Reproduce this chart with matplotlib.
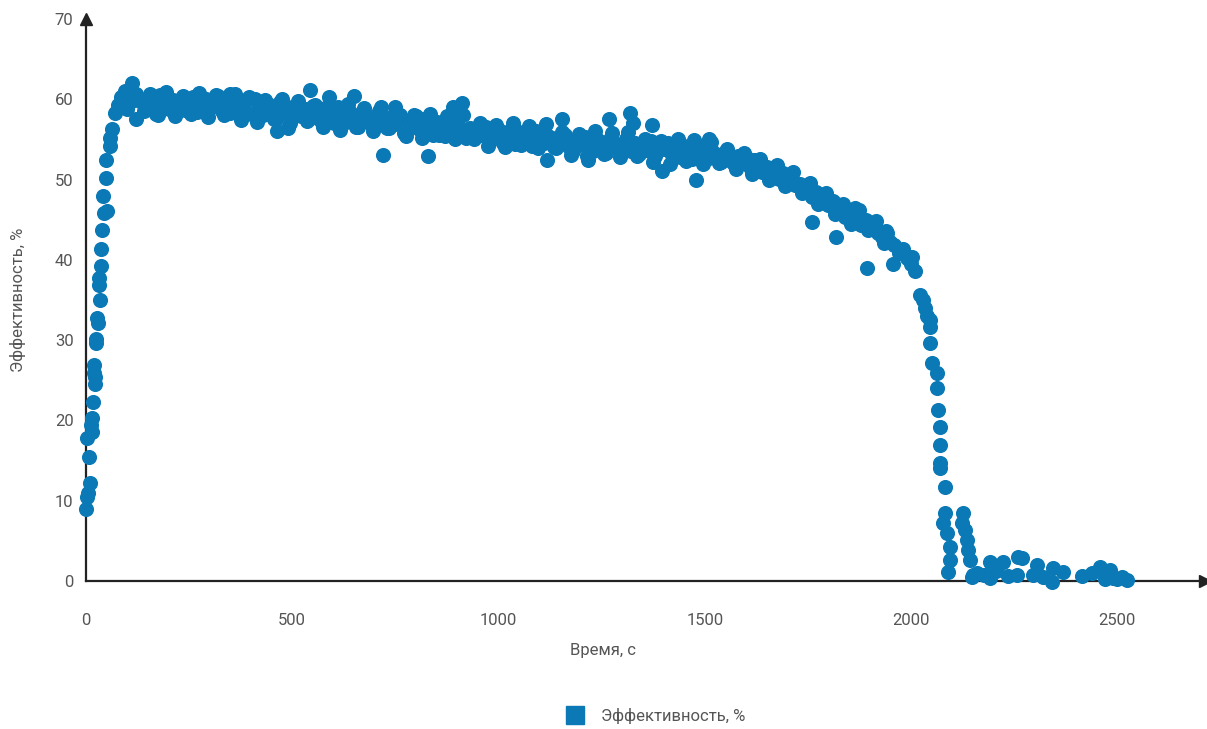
import matplotlib
matplotlib.use('Agg')
import matplotlib.pyplot as plt
from matplotlib.lines import Line2D

plt.rcParams['font.family'] = ['Roboto', 'DejaVu Sans']

BLUE = '#0a79b5'
GREY = '#555555'
FS = 12

# start-up: efficiency climbs from ~9 % to ~60 %
rise_x = [0, 2, 5, 10, 8, 3, 15, 13, 15, 17, 22, 22, 20, 20, 24, 24, 29, 27, 34, 32,
          32, 37, 37, 39, 44, 51, 41, 49, 49, 58, 58, 63, 70, 78, 85, 95, 112, 121, 121, 107, 100]
rise_y = [9.0, 10.5, 11.0, 12.2, 15.5, 17.8, 18.5, 19.4, 20.3, 22.3, 24.6, 25.4, 25.9, 26.9, 29.7,
          30.2, 32.1, 32.8, 35.0, 36.9, 37.8, 39.2, 41.4, 43.7, 45.8, 46.1, 47.9, 50.2, 52.5, 54.2,
          55.2, 56.3, 58.3, 59.3, 60.3, 61.0, 62.0, 60.7, 57.5, 59.7, 58.8]

# working plateau and slow decline
plateau_x = [130, 140, 150, 160, 170, 180, 190, 200, 210, 220,
             230, 240, 250, 260, 270, 280, 290, 300, 310, 320,
             330, 340, 350, 360, 370, 380, 390, 400, 410, 420,
             430, 440, 450, 460, 470, 480, 490, 500, 510, 520,
             530, 540, 550, 560, 570, 580, 590, 600, 610, 620,
             630, 640, 650, 660, 670, 680, 690, 700, 710, 720,
             730, 740, 750, 760, 770, 780, 790, 800, 810, 820,
             830, 840, 850, 860, 870, 880, 890, 900, 910, 920,
             930, 940, 950, 960, 970, 980, 990, 1000, 1010, 1020,
             1030, 1040, 1050, 1060, 1070, 1080, 1090, 1100, 1110, 1120,
             1130, 1140, 1150, 1160, 1170, 1180, 1190, 1200, 1210, 1220,
             1230, 1240, 1250, 1260, 1270, 1280, 1290, 1300, 1310, 1320,
             1330, 1340, 1350, 1360, 1370, 1380, 1390, 1400, 1410, 1420,
             1430, 1440, 1450, 1460, 1470, 1480, 1490, 1500, 1510, 1520,
             1530, 1540, 1550, 1560, 1570, 1580, 1590, 1600, 1610, 1620,
             1630, 1640, 1650, 1660, 1670, 1680, 1690, 1700, 1710, 1720,
             1730, 1740, 1750, 1760, 1770, 1780, 1790, 1800, 1810, 1820,
             1830, 1840, 1850, 1860, 1870, 1880, 1890, 1900, 1910, 1920,
             1930, 1940, 1950, 1960, 1970, 1980, 1990, 2000, 2010]
plateau_y = [59.8, 58.6, 60.2, 59.1, 58.2, 60.5, 59.4, 58.8, 59.9, 58.5,
             60.1, 58.7, 59.5, 60.3, 58.4, 59.0, 60.0, 58.9, 59.6, 60.4,
             58.6, 59.8, 58.3, 60.6, 59.2, 58.5, 59.9, 58.2, 60.1, 59.3,
             58.0, 59.4, 58.9, 57.6, 59.7, 58.3, 56.4, 59.1, 58.6, 57.9,
             58.8, 57.5, 59.2, 58.0, 57.3, 58.9, 58.3, 57.1, 59.0, 58.1,
             57.2, 58.4, 57.6, 56.5, 58.2, 57.9, 56.9, 57.4, 58.5, 57.0,
             56.4, 57.8, 56.9, 58.1, 55.8, 57.3, 56.6, 57.9, 56.2, 57.5,
             56.9, 55.6, 57.2, 56.1, 55.4, 56.8, 57.4, 55.9, 56.3, 55.2,
             56.4, 55.1, 56.0, 55.5, 56.6, 54.8, 55.7, 56.2, 54.6, 55.9,
             55.6, 54.4, 55.9, 54.9, 55.3, 54.2, 56.0, 55.1, 54.5, 55.4,
             55.2, 53.9, 54.8, 55.5, 54.1, 53.6, 55.0, 54.4, 55.3, 54.0,
             53.5, 54.9, 54.2, 53.3, 55.1, 54.6, 53.8, 54.4, 55.0, 53.6,
             54.5, 53.2, 54.1, 53.7, 54.8, 52.9, 54.3, 53.8, 54.6, 53.1,
             53.9, 52.8, 54.2, 53.3, 52.6, 53.8, 53.0, 54.1, 52.7, 53.4,
             53.1, 52.2, 53.4, 52.5, 51.9, 53.0, 52.3, 52.8, 51.6, 52.4,
             51.9, 51.0, 51.6, 50.5, 51.2, 50.1, 50.8, 49.6, 50.4, 49.3,
             49.5, 48.6, 49.1, 47.8, 48.4, 47.2, 47.9, 46.8, 47.3, 46.2,
             46.5, 45.4, 46.1, 44.9, 45.6, 44.3, 45.0, 43.8, 44.6, 43.4,
             42.9, 43.6, 42.2, 41.8, 40.9, 41.3, 40.2, 39.5, 38.6]

# second pass over the plateau: points on the upper and lower edge of the band
edge_x = [155, 175, 195, 215, 235, 255, 275, 295, 315, 335,
          355, 375, 395, 415, 435, 455, 475, 495, 515, 535,
          555, 575, 595, 615, 635, 655, 675, 695, 715, 735,
          755, 775, 795, 815, 835, 855, 875, 895, 915, 935,
          955, 975, 995, 1015, 1035, 1055, 1075, 1095, 1115, 1135,
          1155, 1175, 1195, 1215, 1235, 1255, 1275, 1295, 1315, 1335,
          1355, 1375, 1395, 1415, 1435, 1455, 1475, 1495, 1515, 1535,
          1555, 1575, 1595, 1615, 1635, 1655, 1675, 1695, 1715, 1735,
          1755, 1775, 1795, 1815, 1835, 1855, 1875, 1895, 1915, 1935]
edge_y = [60.6, 58.0, 60.9, 57.9, 60.4, 58.2, 60.8, 57.8, 60.5, 58.1,
          60.0, 57.4, 60.3, 57.2, 59.9, 57.6, 60.1, 57.0, 59.8, 57.3,
          59.3, 56.5, 59.0, 56.2, 59.4, 56.6, 58.9, 56.0, 59.1, 56.4,
          58.3, 55.4, 58.0, 55.2, 58.2, 55.6, 57.9, 55.0, 58.1, 55.3,
          57.0, 54.2, 56.8, 54.0, 57.1, 54.3, 56.7, 53.9, 56.9, 54.1,
          55.9, 53.1, 55.7, 52.9, 56.0, 53.2, 55.8, 52.8, 55.9, 53.0,
          55.0, 52.2, 54.8, 52.0, 55.1, 52.3, 54.9, 51.9, 54.7, 52.1,
          53.8, 51.3, 53.3, 50.7, 52.6, 49.9, 51.8, 49.2, 50.9, 48.3,
          49.6, 46.9, 48.3, 45.7, 47.0, 44.5, 46.2, 43.7, 44.8, 42.1]

# isolated points above / below the band
outlier_x = [543, 589, 650, 349, 749, 912, 890, 463, 720, 829, 1154, 1268, 1319, 1326,
             1372, 1397, 1479, 1511, 1118, 1217, 1760, 1819, 1894, 1865]
outlier_y = [61.1, 60.3, 60.4, 60.7, 59.0, 59.6, 59.0, 56.0, 53.1, 52.9, 57.5, 57.5, 58.3, 57.0,
             56.8, 51.1, 49.9, 55.1, 52.4, 52.4, 44.7, 42.9, 39.0, 46.5]

# collapse
drop_x = [1942, 1957, 2003, 2022, 2030, 2034, 2040, 2047, 2047, 2047, 2051, 2063, 2063, 2066,
          2071, 2071, 2071, 2071, 2083, 2083, 2078, 2088, 2095, 2095, 2090,
          2127, 2124, 2131, 2136, 2139, 2144, 2148, 2161]
drop_y = [43.3, 39.5, 40.3, 35.6, 35.0, 34.0, 33.0, 32.5, 31.6, 29.6, 27.1, 25.9, 24.0, 21.3,
          19.2, 16.9, 14.7, 14.1, 11.7, 8.5, 7.2, 6.0, 4.2, 2.6, 1.1,
          8.5, 7.2, 6.3, 5.1, 3.9, 2.6, 0.5, 1.0]

# residual tail
tail_x = [2151, 2176, 2192, 2192, 2205, 2224, 2235, 2257, 2260, 2270, 2296, 2306, 2320, 2342,
          2345, 2369, 2415, 2440, 2459, 2470, 2483, 2490, 2500, 2512, 2524]
tail_y = [0.7, 0.7, 2.4, 0.4, 1.2, 2.4, 0.6, 0.7, 3.0, 2.9, 0.7, 2.0, 0.5, -0.1,
          1.6, 1.1, 0.6, 1.0, 1.7, 0.2, 1.4, 0.4, 0.3, 0.5, 0.1]

time_s = rise_x + plateau_x + edge_x + outlier_x + drop_x + tail_x
eff = rise_y + plateau_y + edge_y + outlier_y + drop_y + tail_y

fig = plt.figure(figsize=(12.07, 7.29), dpi=100)
ax = fig.add_axes([0.0713, 0.2030, 0.9271, 0.7709])

ax.scatter(time_s, eff, s=118, color=BLUE, linewidths=0, zorder=3, clip_on=False)

ax.set_xlim(0, 2713)
ax.set_ylim(0, 70)
ax.set_xticks([0, 500, 1000, 1500, 2000, 2500])
ax.set_yticks([0, 10, 20, 30, 40, 50, 60, 70])
ax.tick_params(length=0, labelsize=FS, labelcolor=GREY)
ax.tick_params(axis='x', pad=23)
ax.tick_params(axis='y', pad=9)

for side in ['top', 'right']:
    ax.spines[side].set_visible(False)
for side in ['left', 'bottom']:
    ax.spines[side].set_color('#222222')
    ax.spines[side].set_linewidth(1.6)

# arrow heads
ax.plot(1, 0, '>', color='#222222', markersize=8, transform=ax.transAxes, clip_on=False)
ax.plot(0, 1, '^', color='#222222', markersize=8, transform=ax.transAxes, clip_on=False)

ax.set_xlabel('Время, с', fontsize=FS, color=GREY, va='center')
ax.xaxis.set_label_coords(0.462, -0.1228)
ax.set_ylabel('Эффективность, %', fontsize=FS, color=GREY, va='center')
ax.yaxis.set_label_coords(-0.061, 0.5)

handle = Line2D([], [], marker='s', linestyle='none', markersize=13.5, color=BLUE)
fig.legend([handle], ['Эффективность, %'], loc='center', bbox_to_anchor=(0.540, 0.018),
           frameon=False, fontsize=FS, labelcolor=GREY, handletextpad=0.6)

fig.savefig('out.png', dpi=100)
